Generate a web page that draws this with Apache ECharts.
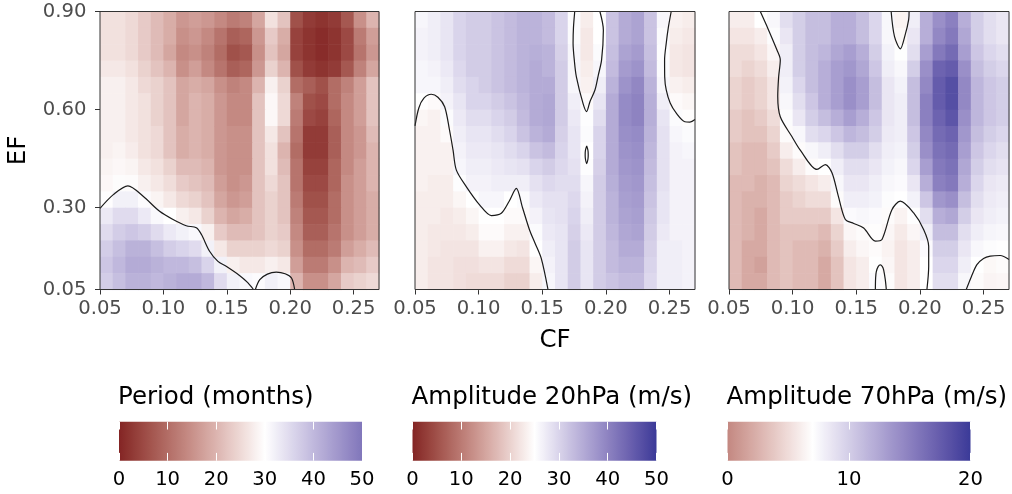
<!DOCTYPE html>
<html><head><meta charset="utf-8">
<script src="https://cdn.jsdelivr.net/npm/echarts@6.0.0/dist/echarts.min.js"></script>
<style>html,body{margin:0;padding:0;background:#fff}#c{width:1012px;height:494px}</style>
</head><body><div id="c"></div><script>
// ---------- data ----------
const cfCenters = [0.055,0.065,0.075,0.085,0.095,0.105,0.115,0.125,0.135,0.145,0.155,0.165,0.175,0.185,0.195,0.205,0.215,0.225,0.235,0.245,0.255,0.265];
const efCenters = [0.875,0.825,0.775,0.725,0.675,0.625,0.575,0.525,0.475,0.425,0.375,0.325,0.275,0.225,0.175,0.125,0.075];
const cfTicks = [0.05,0.10,0.15,0.20,0.25];
const efTicks = [0.05,0.30,0.60,0.90];
const periodTicks = [0,10,20,30,40,50];
const amp20Ticks = [0,10,20,30,40,50];
const amp70Ticks = [0,10,20];
const periodRange = [0,50], amp20Range = [0,50], amp70Range = [0,20];
const periodMid = 30, amp20Mid = 25, amp70Mid = 7;
const legendTitles = ['Period (months)','Amplitude 20hPa (m/s)','Amplitude 70hPa (m/s)'];

const periodGrid = [
[26,26,25,23,21,19,16,17,16,14,12,13,18,26,22,6,3,2,3,7,15,20],
[26,26,25,23,21,19,15,16,14,11,8,9,16,23,19,4,2,1,2,5,12,17],
[26,26,25,23,21,18,14,15,13,10,6,7,15,22,18,4,2,1,2,5,11,16],
[27,27,26,24,22,20,15,17,14,11,8,9,16,24,20,6,3,2,3,7,13,18],
[28,28,27,25,24,22,18,19,18,15,13,14,20,28,24,10,8,6,10,13,17,22],
[28,28,27,26,24,22,18,20,19,16,14,14,22,29,25,13,6,5,10,14,17,22],
[28,28,27,26,24,22,18,20,19,16,14,14,22,29,25,12,5,4,9,14,17,22],
[28,28,27,26,25,22,19,20,19,16,15,15,22,27,22,11,3,3,8,14,16,21],
[28,28.5,27.5,26,25,22,19,20,19,16,15,15,22,26,20,10,3,3,8,14,16,20],
[28.5,29,28.5,27,26,24,21,21,20,16,15,15,22,26,21,11,4,4,9,14,17,20],
[29,29.6,29.5,28,27,25.5,23,22,21,17,15,16,22,25,22,11,5,5,9,15,17,20],
[30.2,32,32,30.5,28.5,27,25,24,22,18,16,17,22,24,22,12,6,6,10,15,17,19],
[33,35,35,33,31,30,28,27,24,20,18,19,22,24,22,13,7,7,10,15,17,19],
[35,37,38,37,35,33,32,31,28,23,21,21,22,24,23,14,8,8,11,15,17,19],
[37,39,41,41,39,37,36,35,32,27,24,24,24,25,24,15,10,10,12,17,19,21],
[38,40,42,42,41,40,40,39,36,32,28,27,27,28,27,17,12,12,15,20,21,23],
[37,39,41,41,40,41,42,42,40,35,32,31,30.5,32,31,20,15,15,18,23,24,25]
];
const amp20Grid = [
[26,27,28,30,31,31,32,33,34,34,33,30,25.5,23,25,32,35,36,32,26,23.5,23],
[26.5,27,28,30,31,31,32,33,34,34,33,30,25.5,22.5,25,32,35,36,32,25.5,23,22.5],
[26.5,27,28,30,31,31,32,33,34,34.5,34,30.5,26,22.5,25.5,32.5,36,37,32.5,25.2,22.5,22],
[26,26.5,27.5,29.5,31,31,32,33,34,35,34,31,26,23,26,33,37,38,33,25.5,22.5,22],
[26,26,27,29,30,31,32,33,34,35,35,31,26,23.5,27,34,38,39.5,34,26,23.5,23],
[25,24.5,26.5,28,30,30,31,32,33.5,35,35.5,31,27,24.5,28,35,39,40,34.5,27,24.5,24],
[24,23.5,25.5,27.5,29,29,30,31,33,35,35.5,31,27.5,25.3,29,35,39,40,34.5,28,25.5,24.8],
[23.5,23.5,24.5,27,28,28,29,30,32,34,35,30.5,28,25.5,30,35,38.5,39,34,28.5,26,25.5],
[23.5,23.5,23.5,26.5,27.5,27.5,28,29,30,32,33,30,28,25,30,35,38,38.5,33.5,28.5,26.5,26],
[23.5,23.5,23.5,26,27,27,27.5,28,28.5,30,31,29.5,28.5,25.3,30.5,35,37.5,38,33,28.5,26.5,26.5],
[23.5,23,23,25.2,26.5,26.5,27,27,27,28.5,29.5,29,29,26,31,34.5,37,37.5,32.5,28.5,26.5,26.5],
[23,23,23,24,25,26,26,25,25.5,27.5,28.5,28.5,29.5,26.5,31,34,36.5,37,32,28,26.5,26.5],
[23,23,22.5,23,24,25,25,24.5,24.5,26.5,28,28.5,30,27,31,34,36,36.5,31.5,28,26.5,26.5],
[23,22.5,22.5,22.5,23,24.5,24.5,23.5,23.5,25.5,27.5,28,30.5,27.5,31,33.5,35.5,36,31,27.5,26.5,26.5],
[23,22.5,22,22,22,23.5,23.5,22.5,22,25,27,28,31,28,31,33,35,35,30.5,27,27,26.5],
[23,22,22,21.5,21.5,22,22,21,21,24,26.5,28,31,28,31,33,34,34,30,27,27,26.5],
[23,22,22,21.5,21,21,21,20,20,23,26,28,31,28,31,32,33,33,29.5,27,27,26.5]
];
const amp70Grid = [
[6,6,7,7.5,9,10,11,11,12,12,11,9.5,7.5,6.3,8,12,14,15,12,10,9,8.5],
[5.5,5.5,6,7.2,8.5,10,11,11,12,12,11,9.5,7.5,6.6,8.5,12,14.5,15.5,12.5,10,9,8.5],
[5,5,5.5,6.5,8,10,11,11.5,12.5,13,12,10,7.8,7.1,9,13,15.5,16.5,13,10.5,9.5,9],
[5,4.5,5,6,8,10,11,12,13,13.5,12.5,10.5,8,7.5,10,14,17,17.5,14,11,10,9.5],
[4.5,4,4.5,5.5,7.8,9.5,11,12,13,14,13,11,8.5,7.8,11,14.5,17.5,18.5,14.5,11.5,10.5,10],
[4.5,4,4.5,5.5,7.5,9,10.5,12,13,14,13,11,8.5,8,11,15,17.5,18.5,14.5,11.5,10.5,10],
[4,3.5,4,5,7.2,8.5,10,11,12,13,12,10.5,8.5,8,11,15,17,18,14,11.5,10.5,10],
[4,3.5,3.5,4.5,6.8,7.5,9,9.5,10.5,11.5,11,10,8.3,8,10.5,14.5,16.5,17,13.5,11,10,9.5],
[3.5,3,3,4,6,6.8,7.5,8,9,10,10,9,8,7.8,10,14,16,16.5,13,10.5,9.5,9],
[3.5,3,3,3.5,5,6,6.8,7,8,9,9,8.5,7.8,7.5,9.5,13,15.5,16,12.5,10,9,8.7],
[3,3,2.5,3,4.5,5,5.5,6,7.5,8.5,8.5,8,7.5,7.3,8.5,12,15,15.5,12,9.5,8.5,8.3],
[3,2.5,2.5,3,4,4.5,5,5,6.8,8,8,7.8,7.2,7,7.8,10.5,13.5,14,11,9,8.3,8],
[3,2.5,2,3,4,4,4,4,5.5,7.3,7.5,7.3,6.8,6.3,7.1,9,12,12.5,10,8.5,8,7.8],
[3,2.5,2,3,3.5,3.5,3.5,3,4.5,6.5,6.8,6.9,6.5,5.8,6.5,8,11,11,9,8,7.6,7.5],
[3,2,2,3,3.5,3,3,2.5,4,6,6.5,6.8,6.3,5.5,6,7.3,10,10,8.5,7.5,7.2,7.1],
[3,2,1.5,3,3.5,3,3,2,3.5,5.5,6,7.1,6.5,5.5,6,7,9.5,9.5,8,7,6.6,6.8],
[3,2,2,3,3.5,3,3,2,3.5,5.5,6,7.3,6.8,5.5,6,7,9,9,7.5,6.8,6.4,6.5]
];

// contour lines (CF, EF)
const periodContourA = [[0.05,0.298],[0.0605,0.34],[0.072,0.367],[0.084,0.335],[0.097,0.289],[0.1076,0.264],[0.118,0.245],[0.126,0.239],[0.13,0.218],[0.1364,0.167],[0.143,0.136],[0.1495,0.121],[0.16,0.093],[0.1665,0.071],[0.171,0.05]];
const periodContourB = [[0.1725,0.05],[0.176,0.08],[0.182,0.097],[0.189,0.103],[0.196,0.098],[0.201,0.085],[0.2035,0.05]];
const amp20ContourA = [[0.05,0.55],[0.053,0.605],[0.057,0.635],[0.0628,0.647],[0.068,0.638],[0.0733,0.609],[0.077,0.54],[0.0799,0.476],[0.0825,0.415],[0.0904,0.364],[0.1009,0.308],[0.11,0.276],[0.1178,0.283],[0.124,0.32],[0.1296,0.359],[0.1345,0.3],[0.14,0.232],[0.1445,0.19],[0.1492,0.145],[0.1545,0.05]];
const amp20ContourB = [[0.1755,0.90],[0.1745,0.85],[0.1742,0.803],[0.1752,0.75],[0.1768,0.70],[0.182,0.619],[0.1848,0.594],[0.1875,0.625],[0.1914,0.66],[0.194,0.705],[0.1966,0.752],[0.198,0.843],[0.1953,0.90]];
const amp20ContourC = [[0.1849,0.489],[0.1859,0.475],[0.1861,0.462],[0.1859,0.449],[0.1849,0.435],[0.1839,0.449],[0.1837,0.462],[0.1839,0.475],[0.1849,0.489]];
const amp20ContourD = [[0.2513,0.90],[0.249,0.85],[0.2474,0.803],[0.2461,0.752],[0.2462,0.70],[0.2474,0.66],[0.2505,0.62],[0.2553,0.589],[0.262,0.563],[0.266,0.562],[0.27,0.57]];
const amp70ContourA = [[0.0746,0.90],[0.0799,0.854],[0.0877,0.782],[0.0903,0.752],[0.089,0.70],[0.0883,0.64],[0.0903,0.578],[0.0995,0.517],[0.106,0.476],[0.1191,0.417],[0.1257,0.432],[0.1309,0.407],[0.136,0.334],[0.1414,0.264],[0.148,0.252],[0.1558,0.238],[0.165,0.198],[0.1702,0.203],[0.178,0.294],[0.1846,0.32],[0.1951,0.284],[0.203,0.233],[0.2069,0.182],[0.2069,0.12],[0.2055,0.05]];
const amp70ContourB = [[0.1774,0.90],[0.18,0.824],[0.1846,0.786],[0.1885,0.83],[0.1912,0.876],[0.1915,0.90]];
const amp70ContourC = [[0.165,0.05],[0.1652,0.085],[0.1657,0.104],[0.1672,0.12],[0.1689,0.125],[0.1705,0.12],[0.1715,0.11],[0.1728,0.08],[0.1736,0.05]];
const amp70ContourD = [[0.2364,0.05],[0.2405,0.09],[0.2448,0.126],[0.25,0.145],[0.2553,0.152],[0.2631,0.154],[0.27,0.142]];

// ---------- colour scale (ggplot gradient2 defaults, Lab interpolation) ----------
const LOW = '#832424', MID = '#FFFFFF', HIGH = '#3A3A98';
function hexRgb(h){return [parseInt(h.slice(1,3),16),parseInt(h.slice(3,5),16),parseInt(h.slice(5,7),16)];}
function toLin(c){c/=255;return c<=0.04045?c/12.92:Math.pow((c+0.055)/1.055,2.4);}
function fromLin(c){c=c<=0.0031308?12.92*c:1.055*Math.pow(c,1/2.4)-0.055;return Math.round(Math.max(0,Math.min(1,c))*255);}
const XN=0.95047,YN=1,ZN=1.08883;
function fLab(t){return t>0.008856?Math.cbrt(t):7.787*t+16/116;}
function fInv(t){const t3=t*t*t;return t3>0.008856?t3:(t-16/116)/7.787;}
function rgbLab(rgb){const R=toLin(rgb[0]),G=toLin(rgb[1]),B=toLin(rgb[2]);
  const X=0.4124*R+0.3576*G+0.1805*B,Y=0.2126*R+0.7152*G+0.0722*B,Z=0.0193*R+0.1192*G+0.9505*B;
  const fx=fLab(X/XN),fy=fLab(Y/YN),fz=fLab(Z/ZN);return [116*fy-16,500*(fx-fy),200*(fy-fz)];}
function labRgb(lab){const fy=(lab[0]+16)/116,fx=fy+lab[1]/500,fz=fy-lab[2]/200;
  const X=XN*fInv(fx),Y=YN*fInv(fy),Z=ZN*fInv(fz);
  return 'rgb('+fromLin(3.2406*X-1.5372*Y-0.4986*Z)+','+fromLin(-0.9689*X+1.8758*Y+0.0415*Z)+','+fromLin(0.0557*X-0.2040*Y+1.0570*Z)+')';}
const LAB_LOW=rgbLab(hexRgb(LOW)),LAB_MID=rgbLab(hexRgb(MID)),LAB_HIGH=rgbLab(hexRgb(HIGH));
function mixLab(a,b,f){return [a[0]+(b[0]-a[0])*f,a[1]+(b[1]-a[1])*f,a[2]+(b[2]-a[2])*f];}
function grad2(v,lo,hi,mid){const t=0.5+(v-mid)/(2*Math.max(hi-mid,mid-lo));
  return t<0.5?labRgb(mixLab(LAB_LOW,LAB_MID,t/0.5)):labRgb(mixLab(LAB_MID,LAB_HIGH,(t-0.5)/0.5));}
function palette(range,mid,n){const out=[];for(let k=0;k<n;k++){out.push(grad2(range[0]+(range[1]-range[0])*k/(n-1),range[0],range[1],mid));}return out;}

// ---------- layout ----------
const FONT = 'DejaVu Sans';
const panels = [
  {left:100, width:279, grid:periodGrid, range:periodRange, mid:periodMid, contours:[periodContourA,periodContourB]},
  {left:415, width:280, grid:amp20Grid, range:amp20Range, mid:amp20Mid, contours:[amp20ContourA,amp20ContourB,amp20ContourC,amp20ContourD]},
  {left:729, width:280, grid:amp70Grid, range:amp70Range, mid:amp70Mid, contours:[amp70ContourA,amp70ContourB,amp70ContourC,amp70ContourD]}
];
const bars = [
  {left:119, width:243, range:periodRange, mid:periodMid, ticks:periodTicks, title:legendTitles[0]},
  {left:412.5, width:244, range:amp20Range, mid:amp20Mid, ticks:amp20Ticks, title:legendTitles[1]},
  {left:727.5, width:243, range:amp70Range, mid:amp70Mid, ticks:amp70Ticks, title:legendTitles[2]}
];
const PTOP = 11.5, PH = 278;
const BTOP = 421.7, BH = 39;
const DX = 0.01, DY = 0.05;

function cellData(g){const out=[];for(let r=0;r<efCenters.length;r++)for(let c=0;c<cfCenters.length;c++)out.push([cfCenters[c],efCenters[r],g[r][c]]);return out;}
function renderCell(params, api){
  const x=api.value(0), y=api.value(1);
  const a=api.coord([x-DX/2,y+DY/2]), b=api.coord([x+DX/2,y-DY/2]);
  return {type:'rect', shape:{x:a[0],y:a[1],width:b[0]-a[0]+0.6,height:b[1]-a[1]+0.6}, style:{fill:api.visual('color')}};
}
function makeBarRenderer(range, mid){
  const cols = palette(range, mid, 101);
  const stops = cols.map((c,k)=>({offset:k/100,color:c}));
  return function(params, api){
    const a=api.coord([api.value(0),1]), b=api.coord([api.value(1),0]);
    return {type:'rect', shape:{x:a[0],y:a[1],width:b[0]-a[0],height:b[1]-a[1]},
      style:{fill:{type:'linear',x:0,y:0,x2:1,y2:0,colorStops:stops}}};
  };
}

const grid=[], xAxis=[], yAxis=[], series=[], visualMap=[];
panels.forEach((p,i)=>{
  grid.push({left:p.left, top:PTOP, width:p.width, height:PH, show:true, borderColor:'#333333', borderWidth:1, backgroundColor:'transparent', z:5});
  xAxis.push({type:'value', gridIndex:i, min:0.05, max:0.27,
    axisLine:{show:false}, splitLine:{show:false},
    axisTick:{show:true, length:5, lineStyle:{color:'#333333',width:1}, customValues:cfTicks},
    axisLabel:{customValues:cfTicks, formatter:v=>v.toFixed(2), color:'#4D4D4D', fontSize:19.6, fontFamily:FONT, margin:9},
    name: i===1?'CF':'', nameLocation:'middle', nameGap:38.5,
    nameTextStyle:{fontSize:24.5, color:'#000', fontFamily:FONT}});
  yAxis.push({type:'value', gridIndex:i, min:0.05, max:0.90,
    axisLine:{show:false}, splitLine:{show:false},
    axisTick:{show:i===0, length:5, lineStyle:{color:'#333333',width:1}, customValues:efTicks},
    axisLabel:{show:i===0, customValues:efTicks, formatter:v=>v.toFixed(2), color:'#4D4D4D', fontSize:19.6, fontFamily:FONT, margin:13.5},
    name: i===0?'EF':'', nameLocation:'middle', nameRotate:90, nameGap:69,
    nameTextStyle:{fontSize:24.5, color:'#000', fontFamily:FONT}});
  series.push({type:'custom', xAxisIndex:i, yAxisIndex:i, data:cellData(p.grid), renderItem:renderCell, encode:{x:0,y:1}, silent:true, z:1});
  visualMap.push({type:'continuous', show:false, seriesIndex:i, dimension:2, min:p.range[0], max:p.range[1], inRange:{color:palette(p.range,p.mid,101)}});
});
panels.forEach((p,i)=>{
  p.contours.forEach(c=>{
    series.push({type:'line', xAxisIndex:i, yAxisIndex:i, data:c, showSymbol:false, symbol:'none', smooth:0.3, clip:true, silent:true,
      lineStyle:{color:'#1A1A1A', width:1.2}, z:3});
  });
});
bars.forEach((b,k)=>{
  const gi = 3+k;
  grid.push({left:b.left, top:BTOP, width:b.width, height:BH, show:false});
  xAxis.push({type:'value', gridIndex:gi, min:b.range[0], max:b.range[1], position:'bottom', z:10,
    axisLine:{show:false}, splitLine:{show:false},
    axisTick:{show:true, inside:true, length:7.8, lineStyle:{color:'#FFFFFF',width:1}, customValues:b.ticks},
    axisLabel:{customValues:b.ticks, color:'#000', fontSize:19.6, fontFamily:FONT, margin:9}});
  yAxis.push({type:'value', gridIndex:gi, min:0, max:1, show:false});
  series.push({type:'custom', xAxisIndex:xAxis.length-1, yAxisIndex:gi, data:[[b.range[0],b.range[1]]], renderItem:makeBarRenderer(b.range,b.mid), silent:true, z:1});
});
bars.forEach((b,k)=>{
  xAxis.push({type:'value', gridIndex:3+k, min:b.range[0], max:b.range[1], position:'top', z:10,
    axisLine:{show:false}, splitLine:{show:false},
    axisTick:{show:true, inside:true, length:7.8, lineStyle:{color:'#FFFFFF',width:1}, customValues:b.ticks},
    axisLabel:{show:false}});
});
const graphic = bars.map(b=>({type:'text', x:b.left-1, y:398, style:{text:b.title, font:'24.5px "DejaVu Sans"', fill:'#000', align:'left', verticalAlign:'middle'}}));

const chart = echarts.init(document.getElementById('c'), null, {renderer:'canvas'});
chart.setOption({animation:false, backgroundColor:'#fff', grid, xAxis, yAxis, visualMap, series, graphic});
</script></body></html>
